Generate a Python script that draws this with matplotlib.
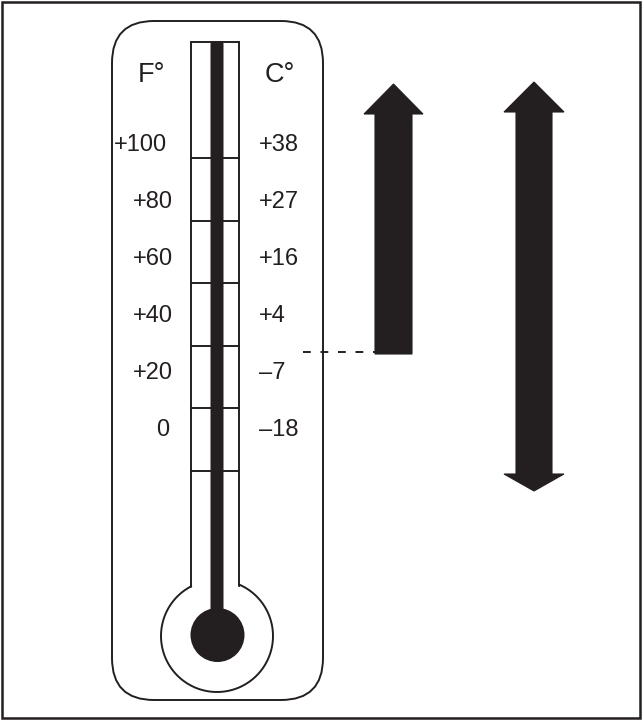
import numpy as np
import matplotlib
matplotlib.use("Agg")
import matplotlib.pyplot as plt
from matplotlib.patches import Rectangle, Circle, FancyBboxPatch, Polygon

# scale labels on the thermometer
f_labels = ["+100", "+80", "+60", "+40", "+20", "0"]
c_labels = ["+38", "+27", "+16", "+4", "\u20137", "\u201318"]
n_ticks = 6

INK = "#231f20"
FONT = ["Liberation Sans", "DejaVu Sans"]

fig = plt.figure(figsize=(6.42, 7.2), dpi=100)
ax = fig.add_axes([0, 0, 1, 1])
ax.set_xlim(0, 642)
ax.set_ylim(720, 0)
ax.axis("off")

# outer frame
ax.add_patch(Rectangle((1.5, 1.5), 638.5, 716.5, fill=False, ec=INK, lw=1.8))

# thermometer body
ax.add_patch(FancyBboxPatch((112, 21), 211, 679, boxstyle="round,pad=0,rounding_size=42",
                            fill=False, ec=INK, lw=1.4))

# tube + bulb outline
cx, cy, r = 217, 636, 56
xl, xr, ytop = 191, 239, 42
yj = cy - np.sqrt(r**2 - (cx - xl)**2)
a1 = np.arctan2(yj - cy, xr - cx)
a2 = np.arctan2(yj - cy, xl - cx) + 2 * np.pi
t = np.linspace(a1, a2, 200)
xs = np.concatenate([[xl, xl, xr, xr], cx + r * np.cos(t)])
ys = np.concatenate([[yj, ytop, ytop, yj], cy + r * np.sin(t)])
ax.plot(xs, ys, color=INK, lw=1.4, solid_joinstyle="miter")

# division lines
tick_y = 158 + 62.6 * np.arange(n_ticks)
for y in tick_y:
    ax.plot([xl, xr], [y, y], color=INK, lw=1.4)

# mercury column and bulb
ax.add_patch(FancyBboxPatch((210.5, 41), 13, 580, boxstyle="round,pad=0,rounding_size=3",
                            fc=INK, ec="none"))
ax.add_patch(Circle((217.5, 635), 27, fc=INK, ec="none"))

# unit headers
ax.text(138, 82, "F\u00b0", fontsize=19.5, family=FONT, color=INK, ha="left", va="baseline")
ax.text(265, 82, "C\u00b0", fontsize=19.5, family=FONT, color=INK, ha="left", va="baseline")

# scale labels
f_x = [167, 173, 173, 173, 173, 169]
for i, (fl, cl) in enumerate(zip(f_labels, c_labels)):
    yb = 151 + 57 * i
    ax.text(f_x[i], yb, fl, fontsize=17, family=FONT, color=INK, ha="right", va="baseline")
    ax.text(259, yb, cl, fontsize=17, family=FONT, color=INK, ha="left", va="baseline")


def arrow(x0, x1, hx0, hx1, y_top_tip, y_top_base, y_bot, y_bot_base=None):
    mid = (x0 + x1) / 2
    pts = [(mid, y_top_tip), (hx1, y_top_base), (x1, y_top_base)]
    if y_bot_base is None:
        pts += [(x1, y_bot), (x0, y_bot)]
    else:
        pts += [(x1, y_bot_base), (hx1, y_bot_base), (mid, y_bot), (hx0, y_bot_base), (x0, y_bot_base)]
    pts += [(x0, y_top_base), (hx0, y_top_base)]
    ax.add_patch(Polygon(pts, closed=True, fc=INK, ec=INK, lw=0.8, joinstyle="miter"))


# rising temperature arrow and full range arrow
arrow(375, 412, 364, 423, 84, 114, 354)
arrow(516, 552, 504, 564, 82, 112, 491, 474)

# dashed level line
ax.plot([303, 375], [351.5, 351.5], color=INK, lw=1.4, dashes=(4, 5))

fig.savefig("out.png", dpi=100)
